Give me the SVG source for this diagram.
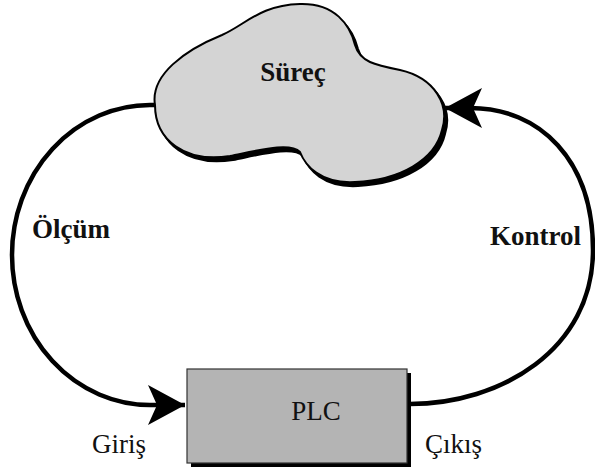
<svg xmlns="http://www.w3.org/2000/svg" width="595" height="473" viewBox="0 0 595 473">
<style>
.bold{font-family:"Liberation Serif","Times New Roman",serif;font-weight:bold;font-size:27px;fill:#111}
.reg{font-family:"Liberation Serif","Times New Roman",serif;font-size:27px;fill:#111}
.conn{fill:none;stroke:#000;stroke-width:4.5}
</style>
<defs>
<marker id="ah" markerUnits="userSpaceOnUse" viewBox="-40 -22 42 44" refX="0" refY="0" markerWidth="42" markerHeight="44" orient="auto">
<path d="M0,0 L-37,-20 L-28,0 L-37,20 Z" fill="#000"/>
</marker>
<path id="cloudShape" d="M155,105 C150,75 185,50 222,35 C245,25 260,5 300,4 C335,3 350,25 355,45 C360,62 375,65 400,70 C435,78 450,105 442,130 C435,160 400,180 355,182 C320,184 305,165 300,152 C290,142 260,150 230,156 C185,163 155,140 155,105 Z"/>
</defs>
<g id="connectors">
<path class="conn" d="M157,105 L150,105 A138,150 0 0 0 150,405 L185,405" marker-end="url(#ah)"/>
<path class="conn" d="M410,404 C500,404 593,350 593,250 C593,160 540,108 470,108 L445,108" marker-end="url(#ah)"/>
</g>
<g id="surec">
<use href="#cloudShape" transform="translate(3,4)" fill="#000" stroke="#000" stroke-width="2"/>
<use href="#cloudShape" fill="#d4d4d4" stroke="#000" stroke-width="2"/>
<text class="bold" x="293" y="81" text-anchor="middle">Süreç</text>
</g>
<g id="plc">
<rect x="191" y="373" width="220" height="94" fill="#000"/>
<rect x="187" y="369" width="220" height="94" fill="#b4b4b4" stroke="#333" stroke-width="1.2"/>
<text class="reg" x="316" y="420" text-anchor="middle">PLC</text>
</g>
<g id="labels">
<text class="bold" x="32" y="238">Ölçüm</text>
<text class="bold" x="490" y="245">Kontrol</text>
<text class="reg" x="92" y="453">Giriş</text>
<text class="reg" x="425" y="453">Çıkış</text>
</g>
</svg>
